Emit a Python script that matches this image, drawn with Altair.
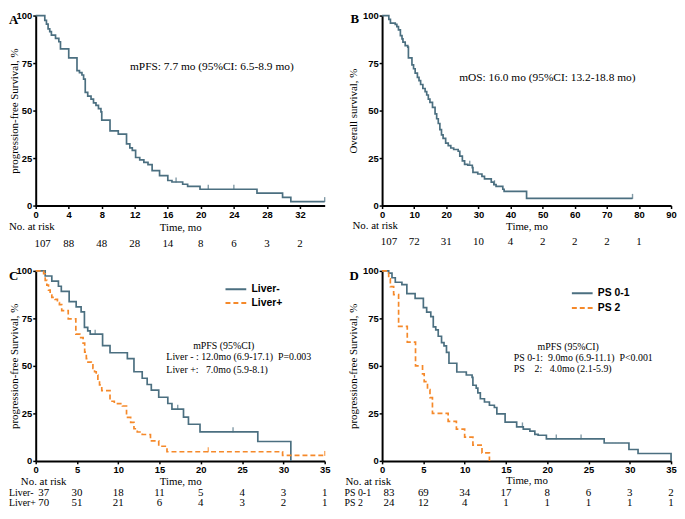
import altair as alt
import pandas as pd

BLUE = "#4b6f80"
ORANGE = "#f5892a"
SERIF = "Liberation Serif, Times New Roman, serif"
SANS_N = "Liberation Sans Narrow, Arial Narrow, Liberation Sans, Arial, sans-serif"
SANS = "Liberation Sans, Arial, sans-serif"

W, H = 292, 192
NB = "\u00a0"

# ---------------- data ----------------
A_time = [0, 1.1, 1.3, 1.5, 1.7, 1.9, 2.4, 2.8, 3.0, 4.0, 5.0, 5.3, 5.6, 5.8, 6.0, 6.3, 6.7, 7.0, 7.3, 7.6, 7.9,
          8.0, 9.0, 10.0, 11.0, 11.4, 11.7, 12.1, 12.6, 13.1, 13.6, 14.1, 15.0, 16.0, 16.5, 17.8, 18.4, 19.9,
          26.8, 29.9, 30.9, 35]
A_surv = [100, 97.5, 95.5, 93, 91.5, 89.7, 88, 86.2, 82.5, 77.7, 71, 70, 68.7, 66.5, 59.6, 57.6, 56, 54, 52.7, 51,
          49.3, 45, 39.3, 37.6, 32.5, 30.4, 29, 25.3, 24, 22.7, 21.5, 18.4, 15.8, 13.2, 12.4, 11.2, 10.1, 8.6,
          6.5, 4.3, 2.1, 2.1]
A_cens_t = [17.0, 20.9, 24.0, 35.0]
A_cens_s = [12.4, 8.6, 8.6, 2.1]

B_time = [0, 2.1, 2.6, 4.1, 4.6, 5.1, 5.7, 6.2, 6.5, 7.2, 8.0, 8.2, 9.3, 9.8, 10.3, 11.0, 11.5, 12.0, 12.7, 13.4,
          13.9, 14.4, 14.9, 15.7, 16.5, 17.0, 17.5, 18.0, 18.5, 19.0, 19.8, 20.6, 21.4, 22.3, 23.7, 24.2, 25.0,
          25.7, 26.7, 28.1, 28.3, 29.8, 31.1, 31.9, 34.0, 34.8, 35.5, 37.6, 38.0, 45.0, 78.0]
B_surv = [100, 98, 96, 95.4, 94.2, 92.5, 89.4, 87.7, 86, 84.2, 83.4, 77.7, 74, 72, 69.7, 67.5, 65.8, 63.7, 61.6, 60,
          58.2, 56, 54.3, 51.7, 48.3, 45.7, 43.2, 40, 37.2, 35.4, 32.9, 31.5, 30.3, 29.5, 28.6, 26, 23.5, 21.7,
          21.2, 20, 17.5, 16.6, 15.4, 14, 12.3, 11, 10.1, 8.6, 7.5, 3.8, 3.8]
B_cens_t = [27.3, 35.0, 78.0]
B_cens_s = [21.2, 11.0, 3.8]

C_neg_time = [0, 1.15, 1.95, 2.75, 3.1, 4.05, 4.9, 5.5, 5.9, 6.3, 6.6, 8.1, 9.0, 11.1, 11.9, 12.9, 13.5, 14.0, 14.9,
              16.0, 16.5, 17.9, 18.5, 19.9, 26.9, 30.9]
C_neg_surv = [100, 97.3, 94.6, 91.9, 89.2, 83.8, 81.1, 78.4, 70.3, 68.4, 66.7, 60.7, 56.9, 53.8, 46.9, 43.5, 40.2,
              37.2, 33.5, 30.2, 27.2, 23.0, 19.3, 15.3, 10.2, 0]
C_neg_cens_t = [7.2, 17.2, 23.9]
C_neg_cens_s = [66.7, 27.2, 15.3]
C_pos_time = [0, 0.96, 1.15, 1.35, 1.55, 1.75, 1.95, 2.35, 2.63, 2.87, 3.15, 3.94, 4.86, 5.34, 5.74, 5.93, 6.13,
              6.33, 6.73, 6.93, 7.13, 7.33, 7.53, 7.73, 8.0, 9.0, 9.52, 10.5, 11.0, 11.5, 11.9, 12.3, 12.9, 13.9,
              14.9, 15.9, 29.9, 35]
C_pos_surv = [100, 98.5, 95, 92.5, 89.9, 87.3, 86.1, 85, 83.3, 82.2, 79.1, 74.7, 66.7, 64.9, 62, 57.2, 53.8, 52,
              51.2, 48.7, 46.9, 45.2, 42.6, 40, 37, 31.4, 30.1, 28.9, 22.9, 20.3, 16.9, 15.2, 13.9, 10.5, 7.7,
              4.8, 2.9, 2.9]
C_pos_cens_t = [20.9, 35.0]
C_pos_cens_s = [4.8, 2.9]

D_ps01_time = [0, 0.8, 1.2, 1.6, 2.4, 3.0, 4.0, 5.0, 5.4, 5.9, 6.2, 6.5, 6.8, 7.2, 7.5, 7.8, 8.1, 9.05, 10.2, 10.9,
               11.0, 11.4, 11.6, 11.9, 12.4, 13.0, 13.6, 13.9, 14.9, 16.3, 17.1, 17.9, 18.5, 18.9, 19.9, 26.9,
               29.9, 31.0, 35]
D_ps01_surv = [100, 98.8, 96.4, 94, 92.8, 88, 85.5, 80.7, 78.3, 75.9, 70.5, 69, 65.6, 62.2, 60.5, 57.1, 51.4, 46.8,
               45.2, 44, 39.8, 38.3, 35.8, 32.7, 31, 29.3, 28.1, 24.7, 20.4, 17.9, 16.7, 15.7, 14, 13.5, 11.6,
               9.4, 6, 3.9, 0]
D_ps01_cens_t = [17.0, 21.1, 24.1]
D_ps01_cens_s = [17.9, 11.6, 11.6]
D_ps2_time = [0, 0.8, 1.0, 1.4, 2.0, 3.05, 4.05, 4.9, 5.1, 5.5, 5.8, 6.1, 8.0, 9.0, 10.0, 11.0, 12.1, 13.0]
D_ps2_surv = [100, 95.8, 91.7, 87.5, 70.8, 62.5, 50, 45.8, 41.7, 37.5, 33.3, 25, 20.8, 16.7, 12.5, 8.3, 4.2, 0]

A_ticks = [0, 4, 8, 12, 16, 20, 24, 28, 32]
A_risk = [107, 88, 48, 28, 14, 8, 6, 3, 2]
B_ticks = [0, 10, 20, 30, 40, 50, 60, 70, 80, 90]
B_risk_t = [0, 10, 20, 30, 40, 50, 60, 70, 80]
B_risk = [107, 72, 31, 10, 4, 2, 2, 2, 1]
CD_ticks = [0, 5, 10, 15, 20, 25, 30, 35]
C_risk_neg = [37, 30, 18, 11, 5, 4, 3, 1]
C_risk_pos = [70, 51, 21, 6, 4, 3, 2, 1]
D_risk_01 = [83, 69, 34, 17, 8, 6, 3, 2]
D_risk_2 = [24, 12, 4, 1, 1, 1, 1, 1]
Y_ticks = [0, 25, 50, 75, 100]

C_groups = ["Liver-", "Liver+"]
D_groups = ["PS 0-1", "PS 2"]

A_note = "mPFS: 7.7 mo (95%CI: 6.5-8.9 mo)"
B_note = "mOS: 16.0 mo (95%CI: 13.2-18.8 mo)"
C_note = ["mPFS (95%CI)",
          "Liver - : 12.0mo (6.9-17.1)" + NB * 2 + "P=0.003",
          "Liver +:" + NB * 3 + "7.0mo (5.9-8.1)"]
D_note = ["mPFS (95%CI)",
          "PS 0-1:" + NB * 2 + "9.0mo (6.9-11.1)" + NB * 2 + "P<0.001",
          "PS" + NB * 4 + "2:" + NB * 3 + "4.0mo (2.1-5.9)"]


# ---------------- helpers ----------------
def xenc(xmax, ticks, title_y):
    return alt.X("t:Q", scale=alt.Scale(domain=[0, xmax], nice=False, zero=True),
                 axis=alt.Axis(values=ticks, title="Time, mo", titleY=title_y, titleBaseline="middle"))


def yenc(title, title_x):
    return alt.Y("s:Q", scale=alt.Scale(domain=[0, 100], nice=False),
                 axis=alt.Axis(values=Y_ticks, title=title, titleX=title_x, titleY=H / 2,
                               titleAngle=270, titleAlign="center", titleBaseline="middle"))


def txt(s, x, y, size=11, align="left", baseline="middle", font=SERIF, weight="normal"):
    return alt.Chart(pd.DataFrame({"label": [s]})).mark_text(
        align=align, baseline=baseline, font=font, fontSize=size, fontWeight=weight, color="black"
    ).encode(text="label:N", x=alt.value(x), y=alt.value(y))


def curve(t, s, X, Y, color):
    return alt.Chart(pd.DataFrame({"t": t, "s": s})).mark_line(
        interpolate="step-after", color=color, strokeWidth=1.7).encode(x=X, y=Y)


def censor(t, s, X, Y, color):
    return alt.Chart(pd.DataFrame({"t": t, "s": s})).mark_tick(
        orient="vertical", size=5, thickness=1.4, color=color, yOffset=-2
    ).encode(x=X, y=Y)


def risk(t, n, X, y, first_dx, size=11):
    df = pd.DataFrame({"t": t, "n": n})
    style = dict(font=SERIF, fontSize=size, color="black", baseline="middle", align="center")
    rest = alt.Chart(df).mark_text(**style).transform_filter("datum.t > 0").encode(
        x=X, y=alt.value(y), text="n:Q")
    first = alt.Chart(df).mark_text(dx=first_dx, **style).transform_filter("datum.t == 0").encode(
        x=X, y=alt.value(y), text="n:Q")
    return [rest, first]


def group_curves(groups, t1, s1, t2, s2, X, Y, lx, ly, row_pad):
    leg = alt.Legend(orient="none", legendX=lx, legendY=ly, title=None, symbolType="M-3,0H1",
                     symbolSize=110, symbolStrokeWidth=2, labelFont=SANS, labelFontWeight="bold",
                     labelFontSize=10.5, labelColor="black", labelOffset=4, rowPadding=row_pad, padding=0)
    df = pd.concat([pd.DataFrame({"t": t1, "s": s1, "grp": groups[0]}),
                    pd.DataFrame({"t": t2, "s": s2, "grp": groups[1]})])
    return alt.Chart(df).mark_line(interpolate="step-after", strokeWidth=1.7).encode(
        x=X, y=Y,
        color=alt.Color("grp:N", scale=alt.Scale(domain=groups, range=[BLUE, ORANGE]), legend=leg),
        strokeDash=alt.StrokeDash("grp:N", scale=alt.Scale(domain=groups, range=[[1, 0], [5, 3]]), legend=leg),
        detail="grp:N",
    )


# ---------------- panel A ----------------
XA = xenc(35, A_ticks, 22)
YA = yenc("progression-free Survival, %", -21)
panelA = alt.layer(
    curve(A_time, A_surv, XA, YA, BLUE),
    censor(A_cens_t, A_cens_s, XA, YA, BLUE),
    txt(A_note, 178, 52, size=11.5, align="center"),
    txt("A", -27, -1, size=13, baseline="top", weight="bold"),
    txt("No. at risk", -27, H + 22),
    *risk(A_ticks, A_risk, XA, H + 39, 7),
).properties(width=W, height=H)

# ---------------- panel B ----------------
XB = xenc(90, B_ticks, 21)
YB = yenc("Overall survival, %", -29)
panelB = alt.layer(
    curve(B_time, B_surv, XB, YB, BLUE),
    censor(B_cens_t, B_cens_s, XB, YB, BLUE),
    txt(B_note, 167, 63, size=11.5, align="center"),
    txt("B", -32, -2, size=13, baseline="top", weight="bold"),
    txt("No. at risk", -30, H + 21),
    *risk(B_risk_t, B_risk, XB, H + 37, 7),
).properties(width=W, height=H)

# ---------------- panel C ----------------
XC = xenc(35, CD_ticks, 21)
YC = yenc("progression-free Survival, %", -21)
panelC = alt.layer(
    group_curves(C_groups, C_neg_time, C_neg_surv, C_pos_time, C_pos_surv, XC, YC, 201, 12, 2),
    censor(C_neg_cens_t, C_neg_cens_s, XC, YC, BLUE),
    censor(C_pos_cens_t, C_pos_cens_s, XC, YC, ORANGE),
    txt(C_note[0], 190, 76, size=10, align="center"),
    txt(C_note[1], 132, 87, size=10),
    txt(C_note[2], 132, 100, size=10),
    txt("C", -27, -1, size=13, baseline="top", weight="bold"),
    txt("No. at risk", -15, H + 21),
    txt(C_groups[0], -27, H + 32, size=10),
    txt(C_groups[1], -27, H + 43, size=10),
    *risk(CD_ticks, C_risk_neg, XC, H + 32, 8),
    *risk(CD_ticks, C_risk_pos, XC, H + 43, 8),
).properties(width=W, height=H)

# ---------------- panel D ----------------
XD = xenc(35, CD_ticks, 20)
YD = yenc("progression-free Survival, %", -29)
panelD = alt.layer(
    group_curves(D_groups, D_ps01_time, D_ps01_surv, D_ps2_time, D_ps2_surv, XD, YD, 201, 16, 3),
    censor(D_ps01_cens_t, D_ps01_cens_s, XD, YD, BLUE),
    txt(D_note[0], 188, 77, size=10, align="center"),
    txt(D_note[1], 133, 88, size=10),
    txt(D_note[2], 133, 99, size=10),
    txt("D", -33, -1, size=13, baseline="top", weight="bold"),
    txt("No. at risk", -37, H + 21),
    txt(D_groups[0], -38, H + 32, size=10),
    txt(D_groups[1], -38, H + 43, size=10),
    *risk(CD_ticks, D_risk_01, XD, H + 32, 7),
    *risk(CD_ticks, D_risk_2, XD, H + 43, 7),
).properties(width=W, height=H)

chart = alt.concat(
    panelA, panelB, panelC, panelD, columns=2, spacing={"row": 66, "column": 58}, bounds="flush", padding=0
).resolve_scale(
    color="independent", strokeDash="independent"
).resolve_legend(
    color="independent", strokeDash="independent"
).configure_view(stroke=None).configure_axis(
    grid=False, domainColor="black", domainWidth=2, tickColor="black", tickWidth=1.5, tickSize=3,
    labelFont=SANS_N, labelFontWeight="bold", labelFontSize=9.5, labelColor="black", labelPadding=1,
    labelFlush=False, titleFont=SERIF, titleFontWeight="normal", titleFontSize=11, titleColor="black",
)

chart.save("out.html", embed_options={"renderer": "svg", "actions": False})
